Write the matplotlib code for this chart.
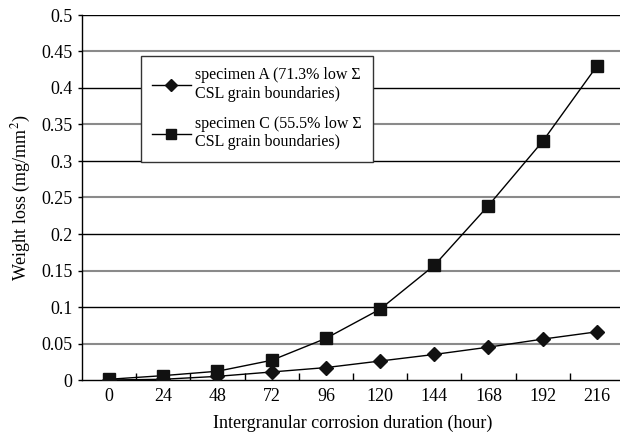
import matplotlib
matplotlib.use("Agg")
import matplotlib.pyplot as plt
import numpy as np

hours = ["0", "24", "48", "72", "96", "120", "144", "168", "192", "216"]
specimen_a = [0.0, 0.001, 0.005, 0.011, 0.017, 0.026, 0.035, 0.045, 0.056, 0.066]
specimen_c = [0.001, 0.006, 0.012, 0.027, 0.057, 0.097, 0.157, 0.239, 0.327, 0.430]
label_a = "specimen A (71.3% low Σ\nCSL grain boundaries)"
label_c = "specimen C (55.5% low Σ\nCSL grain boundaries)"
y_ticks = [0, 0.05, 0.1, 0.15, 0.2, 0.25, 0.3, 0.35, 0.4, 0.45, 0.5]
y_tick_labels = ["0", "0.05", "0.1", "0.15", "0.2", "0.25", "0.3", "0.35", "0.4", "0.45", "0.5"]

plt.rcParams['font.family'] = ['Liberation Serif', 'DejaVu Serif']
plt.rcParams['mathtext.fontset'] = 'stix'

W, H = 620, 440
fig = plt.figure(figsize=(W / 100, H / 100), dpi=100)
left, right, top, bottom = 82, 624, 15, 380
ax = fig.add_axes([left / W, (H - bottom) / H, (right - left) / W, (bottom - top) / H])

x = np.arange(len(hours))
for yv in y_ticks[1:]:
    idx = int(round(yv / 0.05))
    col = 'black' if idx % 2 == 0 else '#8a8a8a'
    lw = 1.0 if idx % 2 == 0 else 1.5
    ax.axhline(yv, color=col, lw=lw, zorder=1)

ax.plot(x, specimen_a, color='black', lw=1.0, marker='D', markersize=7.5,
        markerfacecolor='#111111', markeredgecolor='#111111', label=label_a, zorder=3)
ax.plot(x, specimen_c, color='black', lw=1.0, marker='s', markersize=8,
        markerfacecolor='#111111', markeredgecolor='#111111', label=label_c, zorder=3)

ax.set_xlim(-0.5, 9.5)
ax.set_ylim(0, 0.5)
ax.set_xticks(x)
ax.set_xticklabels(hours, fontsize=13)
ax.set_xticks(np.arange(0.5, 9.5, 1.0), minor=True)
ax.tick_params(axis='x', which='major', length=0, pad=6)
ax.tick_params(axis='x', which='minor', direction='in', length=5, width=1, color='black')
ax.set_yticks(y_ticks)
ax.set_yticklabels(y_tick_labels, fontsize=13)
ax.tick_params(axis='y', which='major', direction='out', length=3, width=1, pad=4)

for s in ['top', 'right']:
    ax.spines[s].set_visible(False)
ax.spines['left'].set_linewidth(1.0)
ax.spines['bottom'].set_linewidth(1.0)

ax.set_xlabel("Intergranular corrosion duration (hour)", fontsize=13, labelpad=7)
ax.set_ylabel("Weight loss (mg/mm$^2$)", fontsize=13, labelpad=6)

leg = fig.legend(loc='upper left', bbox_to_anchor=(141 / W, 1 - 56 / H), fontsize=11.5,
                 frameon=True, fancybox=False, edgecolor='#333333', framealpha=1,
                 handlelength=2.4, borderpad=0.7, labelspacing=0.9, handletextpad=0.3,
                 borderaxespad=0)
leg.get_frame().set_linewidth(1.0)
for h in leg.legend_handles:
    h.set_markersize(6.5)

fig.savefig("out.png", dpi=100)
